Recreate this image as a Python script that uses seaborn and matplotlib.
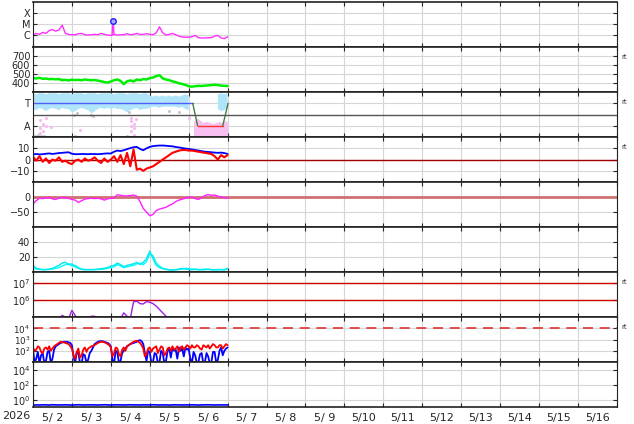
import numpy as np
import pandas as pd
import matplotlib
matplotlib.use('Agg')
import matplotlib.pyplot as plt
import seaborn as sns

sns.set_style('white')
plt.rcParams['font.family'] = ['DejaVu Sans']

# time grids: hours after 5/2 00:00, up to 5/7 00:00
hours = np.arange(0, 121, 2)
hours_1h = np.arange(0, 121, 1)

# x-ray flux (log10 W/m2)
xray_log = [-6.0, -5.85, -5.94, -5.76, -5.85, -5.6, -5.5, -5.64, -5.55, -5.1,
            -5.85, -5.94, -5.97, -5.97, -5.88, -5.85, -5.97, -6.0, -5.97, -5.94,
            -5.97, -5.85, -5.94, -6.0, -6.03, -5.94, -6.0, -5.97, -5.97, -5.88,
            -5.97, -5.94, -5.85, -5.94, -5.94, -5.88, -5.94, -5.97, -5.8, -5.25,
            -5.8, -6.0, -5.94, -5.85, -5.97, -6.1, -6.18, -6.2, -6.2, -6.15,
            -6.03, -6.24, -6.27, -6.27, -6.24, -6.24, -6.1, -6.03, -6.27, -6.33, -6.15]
flare_hours = [48.8, 49.4, 50.0]
flare_log = [-6.0, -4.73, -5.95]

# solar wind speed (km/s)
speed = [455, 452, 458, 448, 450, 444, 446, 442, 445, 432,
         436, 430, 438, 434, 436, 432, 440, 435, 432, 434,
         428, 420, 412, 405, 418, 432, 440, 425, 388, 420,
         430, 418, 440, 432, 445, 440, 455, 462, 478, 488,
         452, 440, 432, 420, 410, 398, 390, 380, 365, 360,
         366, 370, 368, 372, 375, 378, 382, 378, 372, 370, 368]

# IMF sector (T = 1, A = -1)
lb_upper = [1.9, 1.8, 1.9, 1.9, 1.8, 1.9, 1.9, 1.9, 1.8, 1.9,
            1.9, 1.9, 1.8, 1.9, 1.9, 1.9, 1.8, 1.9, 1.9, 1.9,
            1.8, 1.9, 1.9, 1.9, 1.9, 1.8, 1.9, 1.9, 1.9, 1.8,
            1.9, 1.9, 1.9, 1.8, 1.9, 1.9, 1.7, 1.6, 1.7, 1.6,
            1.7, 1.6, 1.7, 1.6, 1.7, 1.6, 1.7, 1.8, 1.7, np.nan,
            np.nan, np.nan, np.nan, np.nan, np.nan, np.nan, np.nan, 1.8, 1.9, 1.8, 1.9]
lb_lower = [0.5, 0.4, 0.6, 0.5, 0.3, 0.5, 0.6, 0.5, 0.4, 0.6,
            0.5, 0.5, 0.2, 0.3, 0.5, 0.6, 0.5, 0.4, 0.1, 0.3,
            0.5, 0.6, 0.5, 0.6, 0.5, 0.6, 0.5, 0.5, 0.4, 0.2,
            0.4, 0.5, 0.6, 0.4, 0.5, 0.5, 0.6, 0.7, 0.7, 0.6,
            0.7, 0.7, 0.7, 0.7, 0.7, 0.6, 0.7, 0.5, 0.4, np.nan,
            np.nan, np.nan, np.nan, np.nan, np.nan, np.nan, np.nan, 0.5, 0.3, 0.4, 0.6]
pink_hours = [99, 101, 103, 105, 107, 109, 111, 113, 115, 117, 119, 120]
pink_upper = [-0.6, -0.3, -0.5, -0.7, -0.6, -0.7, -0.8, -0.7, -0.6, -0.7, -0.5, -0.8]
pink_lower = [-1.9, -1.9, -1.9, -1.9, -1.9, -1.9, -1.9, -1.9, -1.9, -1.9, -1.9, -1.9]
pink_pt_hours = [4.1, 4.1, 4.1, 6.2, 6.2, 8.2, 8.2, 11.3, 28.7, 60.5, 60.5, 60.5, 60.5,
                 62.5, 62.5, 62.5, 63.6, 96.4]
pink_pt_vals = [-0.5, -1.2, -1.6, -0.8, -1.5, -0.3, -1.0, -1.1, -1.4, -0.3, -0.6, -1.0, -1.5,
                -0.8, -1.2, -1.8, -0.4, -0.3]
grey_pt_hours = [1, 3, 5, 7, 25, 26, 27, 36, 37, 58, 59, 84, 90]
grey_pt_vals = [-1.9, -1.8, -1.9, -1.9, 0.0, -1.9, 0.1, 0.0, -0.1, -1.9, 0.2, 0.3, 0.2]
sector_hours = [0, 98.5, 101.5, 117, 120.3]
sector_vals = [1, 1, -1, -1, 1]

# IMF Bt / Bz (nT)
bt = [4.5, 5.0, 4.6, 4.8, 5.2, 5.5, 5.0, 5.4, 5.8, 6.0,
      6.3, 6.5, 5.2, 4.8, 4.8, 5.0, 4.9, 4.8, 5.0, 4.9,
      4.8, 5.0, 5.3, 5.5, 5.4, 7.0, 8.0, 7.6, 8.3, 9.3,
      10.2, 11.0, 11.3, 9.5, 8.3, 10.0, 11.3, 12.0, 12.3, 12.5,
      12.5, 12.3, 12.0, 11.8, 11.2, 10.8, 10.3, 9.8, 9.5, 9.0,
      8.5, 8.0, 7.5, 7.0, 6.8, 6.5, 6.2, 6.0, 6.2, 5.8, 5.0]
bz = [2.5, -1, 3, -2, 1, -3, 0, -1, 2, -2,
      -1, -3, -4, -1, 0, -2, 1, -1, 0, 2,
      -1, -3, 1, -2, 0, 3, -2, 4, -4, 6,
      -6, 9, -9, -8, -10, -8, -7, -6, -4, -2,
      0, 2, 4, 6, 7, 8, 8.5, 8.5, 8, 8,
      7.5, 7, 6.5, 6, 5.5, 5, 3, 0, 4, 2, 4]

# Dst (nT)
dst = [-23, -12, -4, -5, -3, -1, -6, -8, -3, -1,
       -3, -4, -8, -10, -18, -12, -7, -5, -4, -5,
       -4, -6, -10, -6, -4, -3, 8, 6, 4, 4,
       5, 7, 3, -15, -38, -50, -62, -58, -45, -40,
       -37, -34, -28, -23, -15, -10, -7, -4, 0, -1,
       -5, -8, -2, 5, 8, 6, 7, 3, 0, -2, -4]

# AE-like index (cyan, two traces)
cyan_a = [6, 4, 3.5, 3.5, 3, 3.5, 4, 5, 6, 8,
          10, 11, 8, 9, 6, 4, 3.5, 3, 3.5, 3,
          3.5, 3.5, 4, 5, 6, 7, 10, 8, 6, 7,
          8, 9, 11, 12, 10, 14, 24, 22, 12, 8,
          5, 4, 3, 3, 3, 3.5, 4, 5, 4.5, 4,
          4, 3.5, 3, 4, 3.5, 3.5, 3, 3.5, 3, 3, 4]
cyan_b = [9, 5, 4, 3, 3.5, 4, 5, 7, 9, 12,
          13, 10, 11, 7, 5, 3.5, 3, 3.5, 3, 3.5,
          4, 4.5, 5, 6, 8, 9, 12, 10, 7, 9,
          10, 11, 13, 10, 13, 18, 28, 18, 9, 6,
          4.5, 3.5, 3, 2.5, 3, 4, 5, 4, 3.5, 3,
          3.5, 3, 3.5, 3, 4, 3, 3, 3, 3.5, 3, 5]

# electron flux (log10)
elec_log = [4.5, 4.5, 4.6, 4.6, 4.7, 4.7, 4.8, 4.8, 4.9, 5.1,
            5.0, 4.9, 5.4, 5.1, 4.8, 4.7, 4.7, 4.8, 5.05, 5.05,
            4.8, 4.6, 4.6, 4.6, 4.6, 4.6, 4.7, 4.9, 5.25, 5.05,
            4.9, 5.9, 5.95, 5.8, 5.78, 5.92, 5.88, 5.8, 5.65, 5.45,
            5.25, 5.05, 4.9, 4.8, 4.7, 4.6, 4.5, 4.5, 4.5, 4.5,
            4.5, 4.5, 4.5, 4.5, 4.5, 4.5, 4.5, 4.5, 4.5, 4.5, 4.5]

# particle flux, two channels, hourly (log10)
p_red = [2.3, 2.0, 2.1, 2.4, 2.3, 1.9, 1.8, 2.2, 2.3, 2.1,
         2.4, 2.0, 2.2, 2.4, 2.5, 2.6, 2.7, 2.8, 2.75, 2.75,
         2.7, 2.65, 2.6, 2.4, 2.2, 1.6, 1.3, 1.9, 2.2, 1.4,
         1.6, 2.1, 2.3, 1.9, 2.2, 2.3, 2.4, 2.45, 2.5, 2.6,
         2.7, 2.75, 2.8, 2.8, 2.75, 2.7, 2.6, 2.5, 2.3, 1.5,
         1.8, 2.3, 2.2, 1.7, 1.5, 2.1, 2.3, 2.0, 2.4, 2.5,
         2.6, 2.7, 2.8, 2.85, 2.9, 2.8, 2.7, 2.5, 2.2, 1.5,
         1.7, 2.2, 2.3, 1.9, 2.2, 2.3, 2.4, 1.8, 2.1, 2.4,
         2.3, 1.6, 1.8, 2.2, 2.3, 2.0, 2.4, 2.1, 2.2, 2.4,
         1.9, 2.3, 2.4, 2.1, 2.3, 2.5, 2.4, 2.2, 2.5, 2.3,
         2.3, 2.5, 2.4, 2.2, 2.1, 2.5, 2.4, 2.3, 2.5, 2.2,
         2.4, 2.6, 2.5, 2.3, 2.3, 2.5, 2.5, 2.2, 2.4, 2.6,
         2.5]
p_blue = [2.2, 0.9, 1.3, 1.9, 0.9, 1.6, 1.8, 0.9, 1.1, 1.9,
          2.0, 0.9, 1.3, 2.1, 2.4, 2.5, 2.6, 2.7, 2.75, 2.8,
          2.8, 2.8, 2.75, 2.7, 2.5, 1.5, 0.9, 1.9, 1.8, 0.9,
          0.9, 1.7, 1.6, 0.9, 1.2, 1.8, 2.0, 2.3, 2.6, 2.7,
          2.8, 2.85, 2.85, 2.85, 2.8, 2.75, 2.7, 2.6, 2.4, 1.2,
          0.9, 2.0, 1.9, 0.9, 1.1, 1.8, 2.0, 2.2, 2.4, 2.5,
          2.6, 2.65, 2.7, 2.75, 2.8, 2.9, 2.95, 2.85, 2.6, 1.8,
          1.1, 2.0, 1.9, 0.9, 1.0, 1.8, 1.7, 0.9, 1.0, 2.0,
          1.8, 0.9, 1.1, 2.0, 2.2, 1.4, 2.3, 2.0, 2.1, 1.3,
          2.3, 2.0, 2.2, 1.5, 2.3, 2.1, 2.2, 1.3, 0.9, 1.9,
          1.6, 0.9, 1.0, 1.7, 1.8, 0.9, 1.0, 1.8, 1.5, 0.9,
          1.0, 1.9, 1.9, 0.9, 1.2, 2.0, 2.3, 1.6, 2.0, 2.2,
          2.3]

# high energy proton flux (log10)
hp_log = [-0.67, -0.65, -0.66, -0.64, -0.65, -0.67, -0.63, -0.65, -0.66, -0.65,
          -0.64, -0.65, -0.67, -0.65, -0.63, -0.65, -0.66, -0.64, -0.65, -0.65,
          -0.66, -0.65, -0.63, -0.65, -0.67, -0.65, -0.64, -0.65, -0.66, -0.65,
          -0.63, -0.65, -0.65, -0.66, -0.64, -0.65, -0.65, -0.63, -0.65, -0.66,
          -0.65, -0.65, -0.67, -0.65, -0.64, -0.65, -0.66, -0.65, -0.65, -0.64,
          -0.65, -0.67, -0.65, -0.65, -0.63, -0.65, -0.66, -0.65, -0.65, -0.65, -0.66]

day_labels = ['5/ 2', '5/ 3', '5/ 4', '5/ 5', '5/ 6', '5/ 7', '5/ 8', '5/ 9',
              '5/10', '5/11', '5/12', '5/13', '5/14', '5/15', '5/16']

days = hours / 24.0
df = pd.DataFrame({'day': days, 'xray': 10 ** np.array(xray_log), 'speed': speed,
                   'bt': bt, 'bz': bz, 'dst': dst, 'cyan_a': cyan_a, 'cyan_b': cyan_b,
                   'elec': 10 ** np.array(elec_log), 'hp': 10 ** np.array(hp_log)})
df_1h = pd.DataFrame({'day': hours_1h / 24.0, 'p_red': 10 ** np.array(p_red),
                      'p_blue': 10 ** np.array(p_blue)})

fig, axes = plt.subplots(9, 1, figsize=(6.34, 4.24), dpi=100, sharex=True)
fig.subplots_adjust(left=0.052, right=0.973, top=0.995, bottom=0.040, hspace=0)

grid_c = '#d6d6d6'

def line(ax, col, color, lw=1.0, data=df):
    sns.lineplot(data=data, x='day', y=col, ax=ax, color=color, lw=lw,
                 estimator=None, legend=False)

# panel 1: x-ray
ax = axes[0]
ax.set_yscale('log')
line(ax, 'xray', '#ff30ff', 1.0)
fd = np.array(flare_hours) / 24.0
sns.lineplot(x=fd, y=10 ** np.array(flare_log), ax=ax, color='#ff30ff', lw=1.0,
             estimator=None, legend=False)
ax.plot(fd[1], 10 ** flare_log[1], 'o', ms=4, mfc='#aaaaff', mec='#2020ff', mew=1)
ax.set_ylim(10 ** -7.1, 1e-3)
ax.set_yticks([1e-6, 1e-5, 1e-4])
ax.set_yticklabels(['C', 'M', 'X'])

# panel 2: solar wind speed
ax = axes[1]
line(ax, 'speed', '#00ee00', 1.8)
ax.set_ylim(300, 800)
ax.set_yticks([400, 500, 600, 700])

# panel 3: sector
ax = axes[2]
ax.fill_between(days, lb_lower, lb_upper, color='#b0e4fa', lw=0)
ax.fill_between(np.array(pink_hours) / 24.0, pink_lower, pink_upper, color='#f8c0f0', lw=0)
ax.scatter(np.array(pink_pt_hours) / 24.0, pink_pt_vals, s=5, color='#f8b8f0', lw=0)
ax.scatter(np.array(grey_pt_hours) / 24.0, grey_pt_vals, s=5, color='#c8c8c8', lw=0)
sd = np.array(sector_hours) / 24.0
ax.plot(sd[0:2], sector_vals[0:2], color='#5060ff', lw=1)
ax.plot(sd[1:3], sector_vals[1:3], color='#408040', lw=1)
ax.plot(sd[2:4], sector_vals[2:4], color='#ff3030', lw=1)
ax.plot(sd[3:5], sector_vals[3:5], color='#408040', lw=1)
ax.axhline(0, color='#555555', lw=1)
ax.set_ylim(-2, 2)
ax.set_yticks([-1, 1])
ax.set_yticklabels(['A', 'T'])

# panel 4: IMF
ax = axes[3]
ax.axhline(0, color='#a00000', lw=1)
line(ax, 'bt', '#0000ff', 1.3)
line(ax, 'bz', '#ff0000', 1.5)
ax.set_ylim(-20, 20)
ax.set_yticks([-10, 0, 10])

# panel 5: Dst
ax = axes[4]
ax.axhline(0, color='#d07070', lw=2)
line(ax, 'dst', '#ff20ff', 1.0)
ax.set_ylim(-100, 50)
ax.set_yticks([-50, 0])

# panel 6: cyan index
ax = axes[5]
line(ax, 'cyan_a', '#00ffff', 1.0)
line(ax, 'cyan_b', '#00e8f0', 1.0)
ax.set_ylim(0, 60)
ax.set_yticks([20, 40])

# panel 7: electron flux
ax = axes[6]
ax.set_yscale('log')
ax.axhline(1e6, color='#cc0000', lw=1)
ax.axhline(1e7, color='#cc0000', lw=1)
line(ax, 'elec', '#a020e0', 1.0)
ax.set_ylim(1e5, 10 ** 7.68)
ax.set_yticks([1e6, 1e7])
ax.set_yticklabels(['$10^{6}$', '$10^{7}$'])

# panel 8: particle flux
ax = axes[7]
ax.set_yscale('log')
ax.axhline(1e4, color='#dd3333', lw=1.2, ls=(0, (6, 4)))
line(ax, 'p_blue', '#0000ff', 1.3, df_1h)
line(ax, 'p_red', '#ff0000', 1.3, df_1h)
ax.set_ylim(10, 1e5)
ax.set_yticks([1e2, 1e3, 1e4])
ax.set_yticklabels(['$10^{2}$', '$10^{3}$', '$10^{4}$'])

# panel 9: high energy protons
ax = axes[8]
ax.set_yscale('log')
line(ax, 'hp', '#0000ff', 1.2)
ax.set_ylim(10 ** -0.93, 10 ** 5.0)
ax.set_yticks([1e0, 1e2, 1e4])
ax.set_yticklabels(['$10^{0}$', '$10^{2}$', '$10^{4}$'])

for i, ax in enumerate(axes):
    ax.set_xlim(0, 15)
    ax.set_xlabel('')
    ax.set_ylabel('')
    ax.yaxis.set_minor_locator(matplotlib.ticker.NullLocator())
    ax.set_xticks(np.arange(0, 16))
    ax.set_xticks(np.arange(0.5, 15), minor=True)
    ax.grid(True, which='major', color=grid_c, lw=0.8)
    ax.set_axisbelow(True)
    ax.tick_params(axis='both', which='major', direction='in', length=3, width=0.8,
                   left=True, right=True, top=True, bottom=True, labelsize=7, pad=2)
    ax.tick_params(axis='x', which='both', labelbottom=False)
    ax.tick_params(axis='x', which='minor', length=0)
    for s in ['top', 'bottom']:
        ax.spines[s].set_linewidth(1.2)
        ax.spines[s].set_color('#222222')
    for s in ['left', 'right']:
        ax.spines[s].set_linewidth(0.8)
        ax.spines[s].set_color('#222222')

# tightly spaced log labels in panel 8
axes[7].tick_params(axis='y', labelsize=6.3)

axes[-1].tick_params(axis='x', which='minor', labelbottom=True, labelsize=8, pad=4)
axes[-1].set_xticklabels(day_labels, minor=True)
axes[-1].set_xticklabels([])

for i in [1, 2, 3, 6, 7]:
    axes[i].text(1.008, 0.78, 'rt', transform=axes[i].transAxes, fontsize=5,
                 color='#333333', va='center')

fig.text(16 / 634, 1 - 416 / 424, '2026', ha='center', va='center', fontsize=8)

plt.savefig('out.png', dpi=100)
